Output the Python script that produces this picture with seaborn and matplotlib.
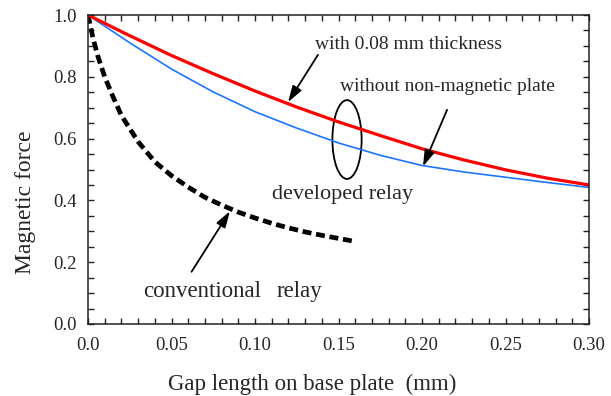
import numpy as np
import pandas as pd
import matplotlib
matplotlib.use("Agg")
import matplotlib.pyplot as plt
from matplotlib.patches import Ellipse
from matplotlib.ticker import MultipleLocator, FixedLocator, FixedFormatter
import seaborn as sns

# ---- data ----
red_x = [0.0, 0.025, 0.05, 0.075, 0.10, 0.125, 0.15, 0.175, 0.20, 0.225, 0.25, 0.275, 0.30]
red_y = [1.0, 0.933, 0.869, 0.810, 0.754, 0.702, 0.654, 0.610, 0.567, 0.531, 0.499, 0.472, 0.450]

blue_x = [0.0, 0.025, 0.05, 0.075, 0.10, 0.125, 0.15, 0.175, 0.20, 0.225, 0.25, 0.275, 0.30]
blue_y = [1.0, 0.910, 0.825, 0.751, 0.687, 0.634, 0.586, 0.546, 0.513, 0.492, 0.475, 0.458, 0.442]

conv_x = [0.0, 0.003, 0.006, 0.01, 0.015, 0.02, 0.03, 0.04, 0.05, 0.06, 0.07, 0.08,
          0.09, 0.10, 0.11, 0.12, 0.13, 0.14, 0.15, 0.16]
conv_y = [1.0, 0.925, 0.865, 0.800, 0.735, 0.675, 0.590, 0.525, 0.480, 0.443, 0.410, 0.385,
          0.362, 0.343, 0.326, 0.311, 0.298, 0.287, 0.277, 0.267]

x_ticks = [0.0, 0.05, 0.10, 0.15, 0.20, 0.25, 0.30]
x_tick_labels = ["0.0", "0.05", "0.10", "0.15", "0.20", "0.25", "0.30"]
y_ticks = [0.0, 0.2, 0.4, 0.6, 0.8, 1.0]
y_tick_labels = ["0.0", "0.2", "0.4", "0.6", "0.8", "1.0"]

x_label = "Gap length on base plate  (mm)"
y_label = "Magnetic force"

sns.set_theme(style="ticks")
plt.rcParams["font.family"] = ["Liberation Serif", "DejaVu Serif"]
plt.rcParams["axes.edgecolor"] = "#222222"
plt.rcParams["axes.linewidth"] = 1.1

fig = plt.figure(figsize=(6.11, 3.96), dpi=100)
ax = fig.add_axes([88 / 611, 1 - 324 / 396, (589 - 88) / 611, (324 - 15) / 396])

df_red = pd.DataFrame({"x": red_x, "y": red_y})
df_blue = pd.DataFrame({"x": blue_x, "y": blue_y})
df_conv = pd.DataFrame({"x": conv_x, "y": conv_y})

sns.lineplot(data=df_conv, x="x", y="y", ax=ax, color="black", lw=3.4,
             sort=False, estimator=None)
ax.lines[-1].set_dashes((1.9, 1.0))
ax.lines[-1].set_dash_capstyle("butt")
sns.lineplot(data=df_blue, x="x", y="y", ax=ax, color="#1a75ff", lw=1.2,
             sort=False, estimator=None)
sns.lineplot(data=df_red, x="x", y="y", ax=ax, color="#ff0000", lw=2.3,
             sort=False, estimator=None)

ax.set_xlim(0, 0.30)
ax.set_ylim(0, 1.0)
ax.xaxis.set_major_locator(FixedLocator(x_ticks))
ax.xaxis.set_major_formatter(FixedFormatter(x_tick_labels))
ax.xaxis.set_minor_locator(MultipleLocator(0.01))
ax.yaxis.set_major_locator(FixedLocator(y_ticks))
ax.yaxis.set_major_formatter(FixedFormatter(y_tick_labels))
ax.yaxis.set_minor_locator(MultipleLocator(0.05))
ax.tick_params(which="both", direction="in", top=True, right=True,
               color="#222222", width=1.0)
ax.tick_params(which="major", length=4)
ax.tick_params(which="minor", length=4)
ax.tick_params(axis="x", which="major", labelsize=13.5, pad=9)
ax.tick_params(axis="y", which="major", labelsize=13.5, pad=8)
for sp in ax.spines.values():
    sp.set_visible(True)

ax.set_xlabel(x_label, fontsize=16.5)
ax.set_ylabel(y_label, fontsize=17)
ax.xaxis.set_label_coords(0.448, -0.16)
ax.yaxis.set_label_coords(-0.104, 0.395)

arrow = dict(arrowstyle="-|>,head_length=0.7,head_width=0.22", color="black",
             lw=1.3, shrinkA=0, shrinkB=0, mutation_scale=14)

ax.text(0.136, 0.889, "with 0.08 mm thickness", fontsize=14, ha="left", va="baseline")
ax.annotate("", xy=(0.1198, 0.718), xytext=(0.1377, 0.871), arrowprops=arrow)

ax.text(0.151, 0.755, "without non-magnetic plate", fontsize=14, ha="left", va="baseline")
ax.annotate("", xy=(0.2006, 0.510), xytext=(0.215, 0.693), arrowprops=arrow)

ax.add_patch(Ellipse((0.1551, 0.597), width=0.0175, height=0.255,
                     fill=False, edgecolor="black", lw=1.3))

ax.text(0.110, 0.405, "developed relay", fontsize=16, ha="left", va="baseline")

ax.text(0.0329, 0.087, "conventional", fontsize=16.5, ha="left", va="baseline")
ax.text(0.1132, 0.087, "relay", fontsize=16.5, ha="left", va="baseline")
ax.annotate("", xy=(0.085, 0.365), xytext=(0.062, 0.169), arrowprops=arrow)

fig.savefig("out.png", dpi=100)
